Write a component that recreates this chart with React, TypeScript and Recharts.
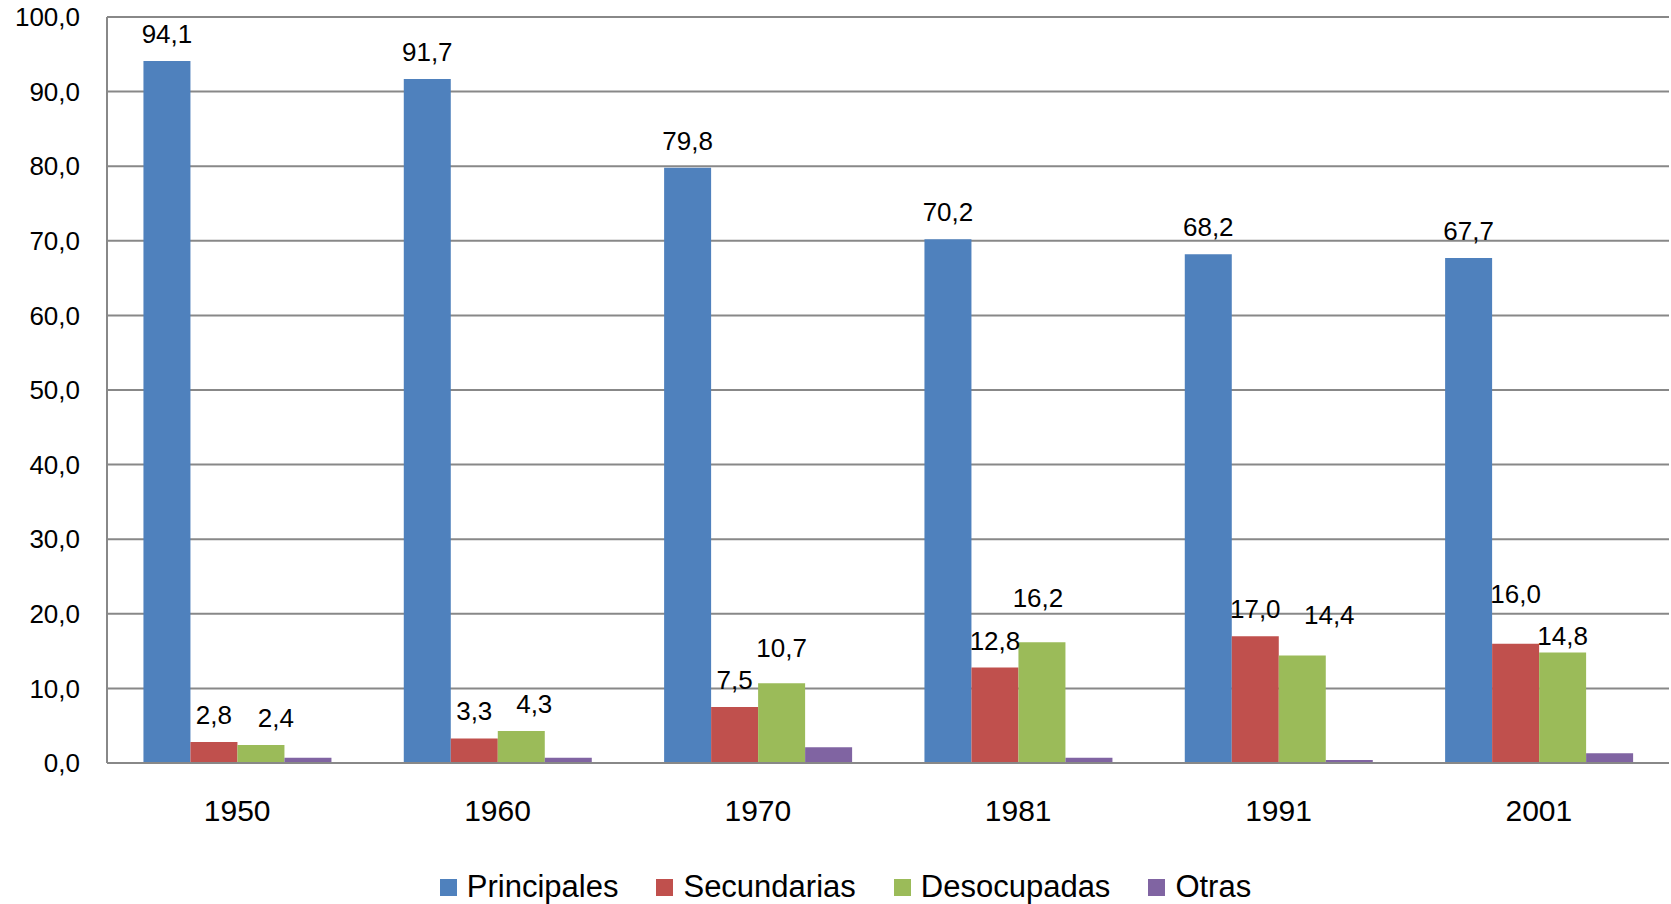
import { Bar, BarChart, CartesianGrid, LabelList, Legend, XAxis, YAxis } from "recharts";

const YEARS = ["1950", "1960", "1970", "1981", "1991", "2001"];
const PRINCIPALES = [94.1, 91.7, 79.8, 70.2, 68.2, 67.7];
const SECUNDARIAS = [2.8, 3.3, 7.5, 12.8, 17.0, 16.0];
const DESOCUPADAS = [2.4, 4.3, 10.7, 16.2, 14.4, 14.8];
const OTRAS = [0.7, 0.7, 2.1, 0.7, 0.4, 1.3];
const Y_TICKS = [0, 10, 20, 30, 40, 50, 60, 70, 80, 90, 100];

// label nudges (px) where Excel moved labels to avoid overlaps
const LABEL_NUDGE: Record<string, { dx: number[]; dy: number[] }> = {
  Principales: { dx: [0, 0, 0, 0, 0, 0], dy: [0, 0, 0, 0, 0, 0] },
  Secundarias: { dx: [0, 0, 0, 0, 0, 0], dy: [0, 0, 0, 0, 0, -23] },
  Desocupadas: { dx: [15, 13, 0, -4, 27, 0], dy: [0, 0, -8, -17, -14, 10] },
};

const SERIES = [
  { key: "Principales", color: "#4F81BD", labels: true },
  { key: "Secundarias", color: "#C0504D", labels: true },
  { key: "Desocupadas", color: "#9BBB59", labels: true },
  { key: "Otras", color: "#8064A2", labels: false },
];

const FONT = "'Liberation Sans', Arial, sans-serif";
const GRID = "#888888";

const data = YEARS.map((y, i) => ({
  year: y,
  Principales: PRINCIPALES[i],
  Secundarias: SECUNDARIAS[i],
  Desocupadas: DESOCUPADAS[i],
  Otras: OTRAS[i],
}));

const fmt = (v: number) => Number(v).toFixed(1).replace(".", ",");

function makeLabel(key: string) {
  return (props: any) => {
    const { x, y, width, value, index } = props;
    const n = LABEL_NUDGE[key];
    return (
      <text
        x={Number(x) + Number(width) / 2 + (n?.dx[index] ?? 0)}
        y={Number(y) - 18 + (n?.dy[index] ?? 0)}
        textAnchor="middle"
        fill="#000"
        fontSize={26}
        fontFamily={FONT}
      >
        {fmt(value)}
      </text>
    );
  };
}

function LegendBox() {
  return (
    <div
      style={{
        height: 40,
        display: "flex",
        justifyContent: "center",
        alignItems: "center",
        fontFamily: FONT,
        fontSize: 31,
        color: "#000",
        paddingLeft: 22,
      }}
    >
      {SERIES.map((s, i) => (
        <div
          key={s.key}
          style={{ display: "flex", alignItems: "center", marginRight: i < SERIES.length - 1 ? 38 : 0 }}
        >
          <span
            style={{ width: 17, height: 17, background: s.color, marginRight: 10, display: "inline-block" }}
          />
          <span>{s.key}</span>
        </div>
      ))}
    </div>
  );
}

export default function App() {
  return (
    <div style={{ position: "absolute", left: 0, top: 0, background: "#fff" }}>
      <BarChart
        width={1671}
        height={904}
        data={data}
        margin={{ top: 17, right: 2, left: 0, bottom: 0 }}
        barCategoryGap="14%"
        barGap={0}
        style={{ fontFamily: FONT }}
      >
        <CartesianGrid vertical={false} stroke={GRID} strokeWidth={2} />
        <XAxis
          dataKey="year"
          height={101}
          tickLine={false}
          axisLine={{ stroke: GRID, strokeWidth: 2 }}
          tick={{ fill: "#000", fontSize: 30 }}
          tickMargin={31}
        />
        <YAxis
          width={107}
          domain={[0, 100]}
          ticks={Y_TICKS}
          interval={0}
          tickFormatter={fmt}
          tickLine={false}
          axisLine={{ stroke: GRID, strokeWidth: 2 }}
          tick={{ fill: "#000", fontSize: 26 }}
          tickMargin={21}
        />
        <Legend
          verticalAlign="bottom"
          height={40}
          wrapperStyle={{ bottom: -3 }}
          content={() => <LegendBox />}
        />
        {SERIES.map((s) => (
          <Bar key={s.key} dataKey={s.key} fill={s.color} isAnimationActive={false}>
            {s.labels && <LabelList dataKey={s.key} content={makeLabel(s.key)} />}
          </Bar>
        ))}
      </BarChart>
    </div>
  );
}
